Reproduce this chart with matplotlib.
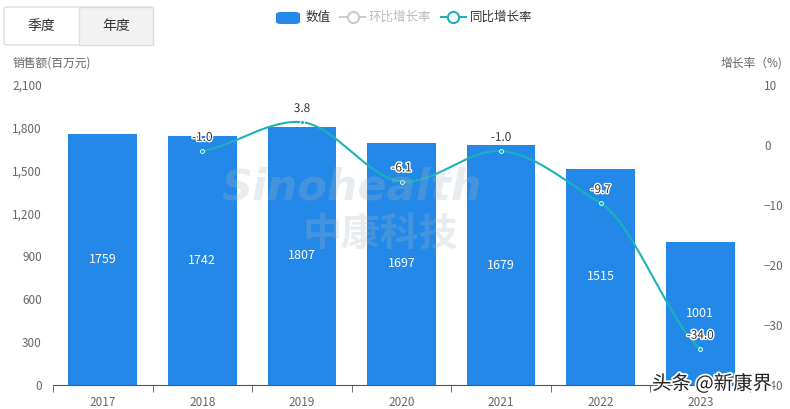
import matplotlib.pyplot as plt
import matplotlib.patheffects as pe
from matplotlib.patches import FancyBboxPatch, Rectangle
from matplotlib.lines import Line2D
import numpy as np

plt.rcParams["font.family"] = ["Noto Sans CJK SC", "DejaVu Sans"]

years = ["2017", "2018", "2019", "2020", "2021", "2022", "2023"]
sales = [1759, 1742, 1807, 1697, 1679, 1515, 1001]
yoy = [None, -1.0, 3.8, -6.1, -1.0, -9.7, -34.0]
left_ticks = [0, 300, 600, 900, 1200, 1500, 1800, 2100]
right_ticks = [10, 0, -10, -20, -30, -40]

bar_color = "#2388E8"
line_color = "#1AB3B8"
tick_color = "#666666"


def smooth(xs, ys, n=30):
    # hermite curve through the points, only for drawing the line
    xs = np.asarray(xs, float)
    ys = np.asarray(ys, float)
    px, py = [], []
    for i in range(len(xs) - 1):
        x0, x1 = xs[i], xs[i + 1]
        y0, y1 = ys[i], ys[i + 1]
        m0 = (ys[i + 1] - ys[i - 1]) / (xs[i + 1] - xs[i - 1]) if i > 0 else (y1 - y0) / (x1 - x0)
        m1 = (ys[i + 2] - ys[i]) / (xs[i + 2] - xs[i]) if i + 2 < len(xs) else (y1 - y0) / (x1 - x0)
        m0 *= 0.6
        m1 *= 0.6
        t = np.linspace(0, 1, n)
        h = x1 - x0
        h00 = 2 * t**3 - 3 * t**2 + 1
        h10 = t**3 - 2 * t**2 + t
        h01 = -2 * t**3 + 3 * t**2
        h11 = t**3 - t**2
        px.extend(x0 + t * h)
        py.extend(h00 * y0 + h10 * h * m0 + h01 * y1 + h11 * h * m1)
    return px, py


fig = plt.figure(figsize=(7.9, 4.09), dpi=100)
ax = fig.add_axes([53 / 790, 24 / 409, 697 / 790, 300 / 409])
x = np.arange(len(years))

ax.bar(x, sales, width=0.69, color=bar_color, zorder=2)
for xi, v in zip(x, sales):
    ax.text(xi, v / 2, str(v), ha="center", va="center", color="white", fontsize=9, zorder=3)

ax.set_xlim(-0.5, len(years) - 0.5)
ax.set_ylim(0, 2100)
ax.set_yticks(left_ticks)
ax.set_yticklabels([f"{t:,}" for t in left_ticks])
ax.set_xticks(x)
ax.set_xticklabels(years)
ax.set_xticks(np.arange(-0.5, len(years), 1), minor=True)
ax.tick_params(axis="x", which="major", length=0, pad=8, labelsize=8.5, labelcolor=tick_color)
ax.tick_params(axis="x", which="minor", length=5, color="#555555")
ax.tick_params(axis="y", length=0, labelsize=8.5, labelcolor=tick_color, pad=8)
for s in ["top", "right", "left"]:
    ax.spines[s].set_visible(False)
ax.spines["bottom"].set_color("#555555")

ax2 = ax.twinx()
ax2.set_ylim(-40, 10)
ax2.set_yticks(right_ticks)
ax2.tick_params(axis="y", length=0, labelsize=8.5, labelcolor=tick_color, pad=10)
for s in ax2.spines.values():
    s.set_visible(False)

lx = [xi for xi, v in zip(x, yoy) if v is not None]
ly = [v for v in yoy if v is not None]
sx, sy = smooth(lx, ly)
ax2.plot(sx, sy, color=line_color, lw=1.5, zorder=4)
ax2.scatter(lx, ly, s=8, color=line_color, edgecolor="white", linewidth=0.6, zorder=5)
for xi, v in zip(lx, ly):
    ax2.text(xi, v + 1.2, f"{v:.1f}", ha="center", va="bottom", fontsize=8.5, color="#333333",
             path_effects=[pe.withStroke(linewidth=2, foreground="white")], zorder=6)

# faint watermark over the plot
fig.text(352 / 790, 1 - 188 / 409, "Sinohealth", fontsize=31, fontstyle="italic", fontweight="bold",
         color="#a8b4c0", alpha=0.25, ha="center", va="center", family="DejaVu Sans")
fig.text(380 / 790, 1 - 234 / 409, "中康科技", fontsize=28, fontweight="bold", color="#a8b4c0",
         alpha=0.25, ha="center", va="center")

# axis titles
fig.text(13 / 790, 1 - 63 / 409, "销售额(百万元)", fontsize=8.5, color=tick_color, va="center")
fig.text(782 / 790, 1 - 63 / 409, "增长率（%)", fontsize=8.5, color=tick_color, va="center", ha="right")

# toggle buttons
fig.patches.append(FancyBboxPatch((4 / 790, 1 - 45 / 409), 149 / 790, 38 / 409,
                                  boxstyle="round,pad=0,rounding_size=0.005", transform=fig.transFigure,
                                  facecolor="white", edgecolor="#dddddd", lw=1))
fig.patches.append(Rectangle((79 / 790, 1 - 45 / 409), 74 / 790, 38 / 409, transform=fig.transFigure,
                             facecolor="#f2f2f2", edgecolor="#dddddd", lw=1))
fig.text(41 / 790, 1 - 26 / 409, "季度", fontsize=10, color="#333333", ha="center", va="center")
fig.text(116 / 790, 1 - 26 / 409, "年度", fontsize=10, color="#333333", ha="center", va="center")

# legend
fig.patches.append(FancyBboxPatch((276 / 790, 1 - 24 / 409), 24 / 790, 12 / 409,
                                  boxstyle="round,pad=0,rounding_size=0.006", transform=fig.transFigure,
                                  facecolor=bar_color, edgecolor="none"))
fig.text(306 / 790, 1 - 17 / 409, "数值", fontsize=9, color="#333333", va="center")
for x0, col, lab in [(340, "#cccccc", "环比增长率"), (441, line_color, "同比增长率")]:
    fig.lines.append(Line2D([x0 / 790, (x0 + 25) / 790], [1 - 17 / 409] * 2, transform=fig.transFigure,
                            color=col, lw=1.5))
    fig.lines.append(Line2D([(x0 + 12.5) / 790], [1 - 17 / 409], transform=fig.transFigure, marker="o",
                            markersize=8, markerfacecolor="white", markeredgecolor=col, markeredgewidth=1.5))
    fig.text((x0 + 29) / 790, 1 - 17 / 409, lab, fontsize=9, va="center",
             color="#bbbbbb" if col == "#cccccc" else "#333333")

# site watermark in the corner, drawn over the -40 tick like the original
fig.text(652 / 790, 1 - 384 / 409, "头条 @新康界", fontsize=14, color="#222222", va="center", zorder=10,
         path_effects=[pe.withStroke(linewidth=2.5, foreground="white")])

fig.savefig("out.png", dpi=100)
